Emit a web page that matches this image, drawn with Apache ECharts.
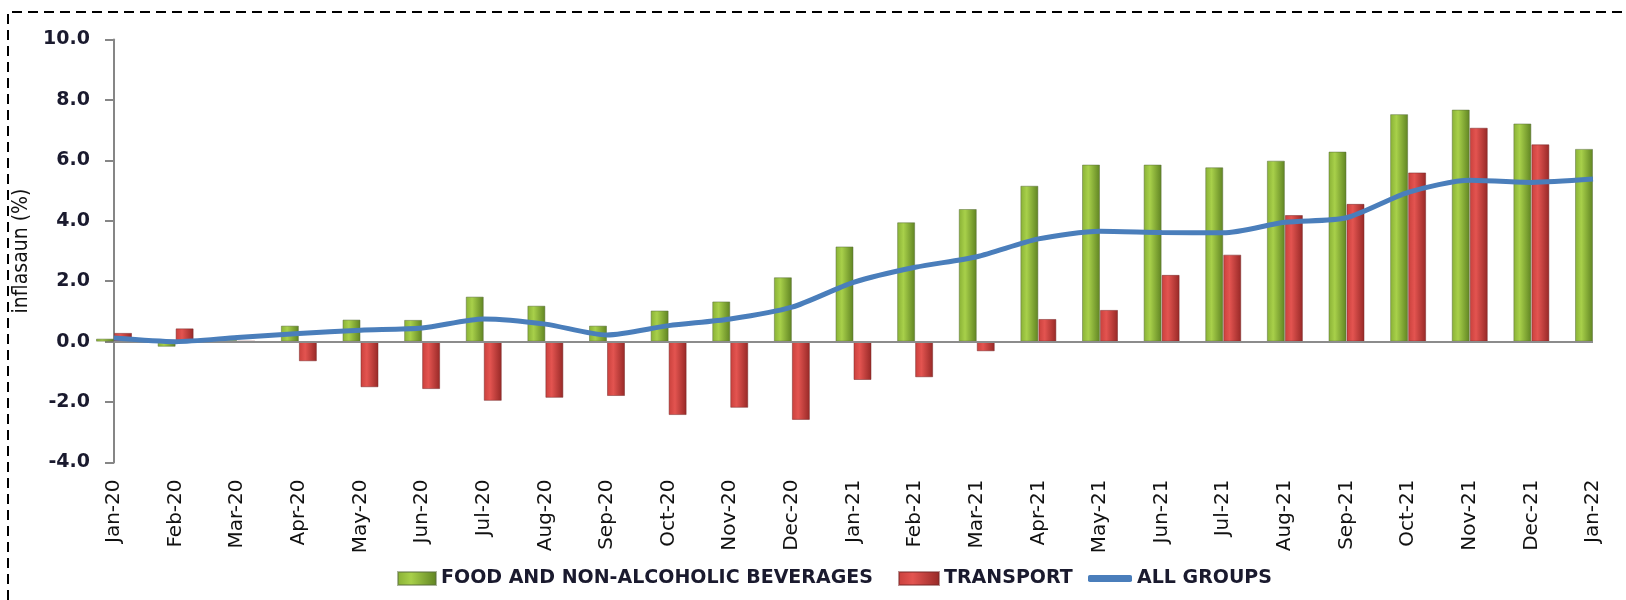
<!DOCTYPE html>
<html>
<head>
<meta charset="utf-8">
<title>inflasaun</title>
<script src="https://cdn.jsdelivr.net/npm/echarts@6/dist/echarts.min.js"></script>
<style>
  html, body { margin: 0; padding: 0; background: #fff; }
  #chart { width: 1626px; height: 600px; }
</style>
</head>
<body>
<div id="chart"></div>
<script>
// months on the category axis
const months = ['Jan-20', 'Feb-20', 'Mar-20', 'Apr-20', 'May-20', 'Jun-20', 'Jul-20', 'Aug-20',
  'Sep-20', 'Oct-20', 'Nov-20', 'Dec-20', 'Jan-21', 'Feb-21', 'Mar-21', 'Apr-21', 'May-21',
  'Jun-21', 'Jul-21', 'Aug-21', 'Sep-21', 'Oct-21', 'Nov-21', 'Dec-21', 'Jan-22']

// values (%)
const food = [0.1, -0.17, 0.05, 0.53, 0.73, 0.72, 1.49, 1.19, 0.53, 1.03, 1.33, 2.13, 3.15,
  3.95, 4.39, 5.16, 5.86, 5.86, 5.77, 5.99, 6.29, 7.53, 7.68, 7.22, 6.38]
const transport = [0.29, 0.44, 0.02, -0.65, -1.51, -1.57, -1.96, -1.86, -1.8, -2.43, -2.19,
  -2.59, -1.27, -1.18, -0.32, 0.75, 1.05, 2.21, 2.88, 4.19, 4.56, 5.6, 7.08, 6.53, null]
const allGroups = [0.12, 0.0, 0.14, 0.27, 0.38, 0.45, 0.75, 0.58, 0.22, 0.53, 0.75, 1.14,
  1.96, 2.46, 2.81, 3.4, 3.65, 3.61, 3.6, 3.95, 4.1, 4.94, 5.34, 5.27, 5.38]

const yTicks = { min: -4, max: 10, step: 2 }

const chart = echarts.init(document.getElementById('chart'))

function shade (light, mid, dark) {
  return new echarts.graphic.LinearGradient(0, 0, 1, 0, [
    { offset: 0, color: mid },
    { offset: 0.35, color: light },
    { offset: 1, color: dark }
  ])
}

const legendText = { color: '#1a1a2e', fontSize: 19, fontWeight: 'bold', fontFamily: 'DejaVu Sans' }

const option = {
  animation: false,
  backgroundColor: '#fff',
  textStyle: { fontFamily: 'DejaVu Sans' },
  grid: {
    left: 114,
    right: 33,
    top: 39.5,
    bottom: 137.5
  },
  legend: [
    {
      left: 392,
      top: 564,
      itemWidth: 38,
      itemHeight: 13,
      textStyle: legendText,
      data: [{ name: 'FOOD AND NON-ALCOHOLIC BEVERAGES', icon: 'rect' }]
    },
    {
      left: 893,
      top: 564,
      itemWidth: 40,
      itemHeight: 13,
      textStyle: legendText,
      data: [{ name: 'TRANSPORT', icon: 'rect' }]
    },
    {
      left: 1083,
      top: 564,
      itemWidth: 44,
      itemHeight: 7,
      textStyle: legendText,
      data: [{ name: 'ALL GROUPS', icon: 'roundRect' }]
    }
  ],
  xAxis: {
    type: 'category',
    data: months,
    boundaryGap: false,
    axisLine: { show: false, onZero: false },
    axisTick: { show: false },
    axisLabel: {
      rotate: 90,
      margin: 17,
      color: '#111',
      fontSize: 20,
      fontFamily: 'DejaVu Sans'
    }
  },
  yAxis: {
    type: 'value',
    min: yTicks.min,
    max: yTicks.max,
    interval: yTicks.step,
    name: 'inflasaun (%)',
    nameLocation: 'middle',
    nameGap: 82,
    nameRotate: 90,
    nameTextStyle: { color: '#111', fontSize: 21, fontFamily: 'DejaVu Sans Condensed, DejaVu Sans' },
    axisLine: { show: true, lineStyle: { color: '#868686', width: 2 } },
    axisTick: { show: true, length: 9, lineStyle: { color: '#868686', width: 2 } },
    splitLine: { show: false },
    axisLabel: {
      margin: 24,
      color: '#1a1a2e',
      fontSize: 19,
      fontWeight: 'bold',
      formatter: v => v.toFixed(1)
    }
  },
  graphic: [
    {
      type: 'polyline',
      silent: true,
      shape: { points: [[8, 600], [8, 12], [1626, 12]] },
      style: { stroke: '#000', lineWidth: 2, lineDash: [10, 6], fill: null }
    }
  ],
  series: [
    {
      name: 'FOOD AND NON-ALCOHOLIC BEVERAGES',
      type: 'bar',
      data: food,
      barWidth: 18,
      barGap: '0%',
      itemStyle: {
        color: shade('#a8d04a', '#88b035', '#5f8322'),
        borderColor: 'rgba(90,110,60,0.5)',
        borderWidth: 1
      },
      markLine: {
        silent: true,
        symbol: 'none',
        label: { show: false },
        lineStyle: { color: '#8c8c8c', width: 2, type: 'solid' },
        data: [{ yAxis: 0 }]
      },
      z: 2
    },
    {
      name: 'TRANSPORT',
      type: 'bar',
      data: transport,
      barWidth: 18,
      itemStyle: {
        color: shade('#e35450', '#c9403c', '#962826'),
        borderColor: 'rgba(120,40,40,0.5)',
        borderWidth: 1
      },
      z: 2
    },
    {
      name: 'ALL GROUPS',
      type: 'line',
      data: allGroups,
      symbol: 'none',
      smooth: 0.25,
      lineStyle: { color: '#4a7ebb', width: 5 },
      itemStyle: { color: '#4a7ebb' },
      z: 5
    }
  ]
}

chart.setOption(option)
</script>
</body>
</html>
